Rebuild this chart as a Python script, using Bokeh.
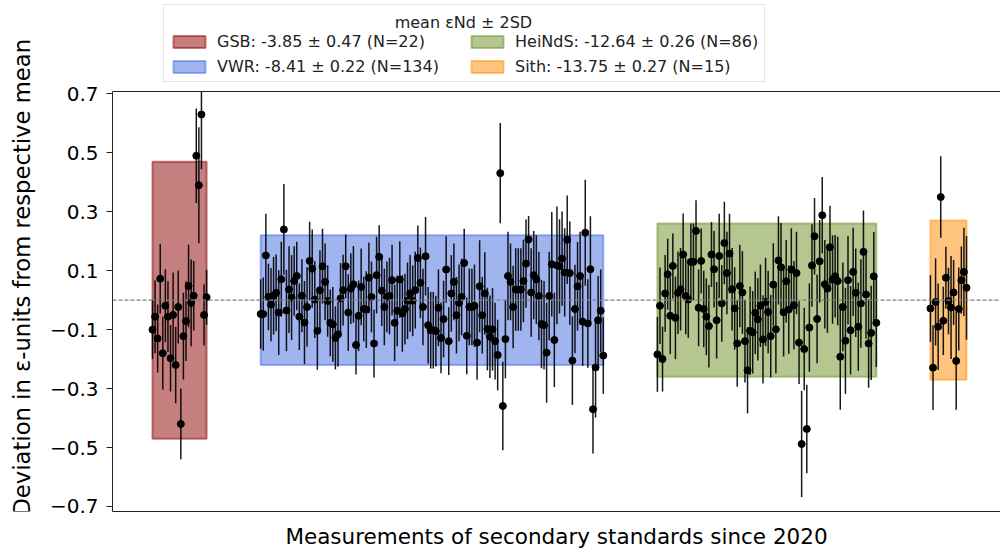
import numpy as np
from bokeh.plotting import figure
from bokeh.layouts import row
from bokeh.models import (Range1d, FixedTicker, Span, Legend, LegendItem,
                          Label, ColumnDataSource, CustomJSTickFormatter)
from bokeh.embed import file_html
from bokeh.resources import INLINE

# ---------------- data ----------------
names = ["GSB", "VWR", "HeiNdS", "Sith"]
means = [-3.85, -8.41, -12.64, -13.75]
two_sd = [0.47, 0.22, 0.26, 0.27]
counts = [22, 134, 86, 15]
starts = [0, 42, 196, 302]          # measurement index of first run of each standard

gsb_dev = [-0.10, -0.056, -0.13, 0.073, -0.18, -0.019, -0.056, -0.197, -0.05, -0.22, -0.023,
           -0.42, -0.122, -0.071, 0.048, -0.009, 0.015, 0.49, 0.39, 0.63, -0.05, 0.01]
gsb_err = [0.10, 0.124, 0.115, 0.118, 0.124, 0.124, 0.12, 0.113, 0.144, 0.13, 0.124,
           0.12, 0.147, 0.135, 0.14, 0.147, 0.118, 0.16, 0.197, 0.186, 0.104, 0.093]

vwr_dev = [-0.047, -0.047, 0.152, 0.011, -0.015, 0.015, 0.025, -0.042, 0.071, 0.24, -0.035,
           0.036, 0.009, 0.065, 0.082, -0.056, 0.015, -0.076, -0.023, 0.133, 0.107, 0.002,
           -0.104, 0.034, 0.115, 0.062, -0.003, -0.077, -0.082, -0.128, -0.116,
           0.006, 0.034, 0.115, -0.042, 0.039, 0.054, -0.152, -0.053, 0.045, -0.030, -0.032,
           0.076, 0.011, -0.147, 0.085, 0.147, 0.032, -0.023, 0.011, 0.014, 0.068, -0.077,
           -0.036, 0.070, -0.045, -0.030, -0.002, 0.023, -0.002, 0.034, 0.143, 0.059, -0.023, 0.149,
           -0.085, -0.102, -0.102, -0.105, -0.026, -0.128, -0.064, 0.104, -0.139, 0.023, 0.062,
           -0.051, -0.009, 0.011, 0.126, -0.121, -0.023, -0.023, -0.019, -0.144, 0.047, -0.051,
           0.023, -0.098, -0.124, -0.099, -0.139, -0.186, 0.431, -0.359, -0.132, 0.082, 0.062,
           -0.023, 0.036,
           0.036, 0.036, 0.065, 0.124, 0.206, 0.026, 0.085, 0.070, 0.014, -0.081, -0.085,
           -0.178, 0.014, 0.122, -0.135, 0.118, 0.115, 0.141, 0.094, 0.205, 0.092, -0.205,
           -0.030, 0.047, 0.082, -0.073, 0.229, -0.079, 0.105, -0.370, -0.228, -0.068, -0.036, -0.188]
vwr_err = [0.118, 0.124, 0.141, 0.113, 0.124, 0.132, 0.13, 0.144, 0.127, 0.154, 0.138,
           0.147, 0.144, 0.118, 0.116, 0.113, 0.124, 0.141, 0.135, 0.133, 0.133, 0.13,
           0.132, 0.135, 0.127, 0.13, 0.121, 0.113, 0.127, 0.107, 0.11,
           0.12, 0.12, 0.108, 0.13, 0.12, 0.13, 0.10, 0.12, 0.13, 0.11, 0.13,
           0.12, 0.12, 0.115, 0.13, 0.107, 0.12, 0.13, 0.12, 0.13, 0.12, 0.13,
           0.12, 0.13, 0.13, 0.12, 0.13, 0.13, 0.12, 0.13, 0.11, 0.12, 0.13, 0.133,
           0.13, 0.13, 0.13, 0.12, 0.13, 0.12, 0.13, 0.113, 0.115, 0.13, 0.13,
           0.13, 0.13, 0.13, 0.116, 0.13, 0.13, 0.13, 0.14, 0.126, 0.156, 0.13,
           0.14, 0.14, 0.14, 0.14, 0.13, 0.12, 0.17, 0.15, 0.133, 0.15, 0.13,
           0.14, 0.14,
           0.14, 0.14, 0.14, 0.15, 0.08, 0.15, 0.15, 0.15, 0.15, 0.15, 0.15,
           0.17, 0.15, 0.177, 0.16, 0.2, 0.16, 0.16, 0.15, 0.15, 0.175, 0.15,
           0.15, 0.15, 0.15, 0.15, 0.18, 0.15, 0.18, 0.15, 0.17, 0.15, 0.14, 0.13]

heinds_dev = [-0.184, -0.019, -0.20, 0.023, 0.088, -0.053, 0.116, -0.06, 0.025, 0.037, 0.155,
              0.014, 0.002, 0.13, 0.13, 0.235, -0.026, 0.133, -0.03, -0.056, -0.088, 0.155,
              0.105, -0.068, 0.15, -0.011, 0.194,
              0.092, 0.158, 0.037, -0.028, -0.147, 0.048, 0.026, -0.139, -0.238, -0.104, -0.109,
              -0.043, -0.065, -0.019, -0.133, -0.006, -0.04, -0.122, 0.053, -0.099, 0.135, 0.112,
              -0.041, 0.064, -0.032, 0.104, -0.017, 0.092, -0.144,
              -0.488, -0.166, -0.437, -0.093, 0.118, 0.217, -0.064, 0.132, 0.288, 0.054, 0.039,
              0.18, 0.07, 0.081, 0.065, -0.192, -0.023, -0.138, 0.068, -0.102, 0.096, 0.025,
              -0.09, -0.011, 0.164, 0.019, -0.147, -0.111, 0.081, -0.077]
heinds_err = [0.127, 0.13, 0.11, 0.13, 0.12, 0.13, 0.11, 0.14, 0.14, 0.14, 0.139,
              0.13, 0.13, 0.13, 0.13, 0.104, 0.13, 0.11, 0.13, 0.13, 0.14, 0.11,
              0.13, 0.13, 0.143, 0.13, 0.14,
              0.14, 0.135, 0.14, 0.14, 0.147, 0.14, 0.14, 0.14, 0.146, 0.15, 0.14,
              0.14, 0.14, 0.14, 0.15, 0.15, 0.14, 0.14, 0.14, 0.15, 0.15, 0.15,
              0.15, 0.14, 0.15, 0.14, 0.15, 0.14, 0.14,
              0.18, 0.14, 0.15, 0.15, 0.14, 0.13, 0.15, 0.14, 0.13, 0.15, 0.15,
              0.14, 0.15, 0.14, 0.15, 0.18, 0.15, 0.18, 0.15, 0.15, 0.15, 0.15,
              0.15, 0.15, 0.14, 0.15, 0.15, 0.16, 0.15, 0.15]

sith_dev = [-0.028, -0.229, -0.006, -0.09, 0.35, -0.07, 0.076, -0.003, -0.025, 0.026,
            -0.206, -0.03, 0.068, 0.096, 0.042]
sith_err = [0.113, 0.144, 0.148, 0.147, 0.138, 0.116, 0.105, 0.113, 0.175, 0.11,
            0.166, 0.141, 0.114, 0.15, 0.176]

devs = [gsb_dev, vwr_dev, heinds_dev, sith_dev]
errs = [gsb_err, vwr_err, heinds_err, sith_err]

ytick_vals = [-0.7, -0.5, -0.3, -0.1, 0.1, 0.3, 0.5, 0.7]
y_lim = (-0.717, 0.708)      # axes limits of the data panel

legend_title = "mean εNd ± 2SD"
x_title = "Measurements of secondary standards since 2020"
y_title = "Deviation in ε-units from respective mean"

# ---------------- styling ----------------
colors = ["darkred", "royalblue", "olivedrab", "darkorange"]
FONT = "DejaVu Sans"
PX_PER_UNIT = 294.7          # vertical scale (pixels per epsilon unit)
TOP_PAD_PX = 91              # space above the axes box that holds the legend
LABEL_W = 40                 # width of the strip holding the y title

# ---------------- sources ----------------
xs, ys, es = [], [], []
for s, d, e in zip(starts, devs, errs):
    xs += list(s + np.arange(len(d)))
    ys += d
    es += e
xs = np.array(xs, dtype=float)
ys = np.array(ys)
es = np.array(es)
# error bars are cut at the top of the axes box, as in the original
pts = ColumnDataSource(dict(x=xs, y=ys, lo=ys - es, hi=np.minimum(ys + es, y_lim[1])))

box_src = ColumnDataSource(dict(
    left=[float(s) for s in starts],
    right=[float(s + n - 1) for s, n in zip(starts, counts)],
    bottom=[-v for v in two_sd],
    top=two_sd,
    color=colors,
))

# ---------------- main figure ----------------
y_end = y_lim[1] + TOP_PAD_PX / PX_PER_UNIT
p = figure(width=1000 - LABEL_W, height=552, output_backend="svg", toolbar_location=None,
           x_range=Range1d(-15.53, 329.2), y_range=Range1d(y_lim[0], y_end),
           min_border_left=112 - LABEL_W, min_border_right=0, min_border_top=0,
           min_border_bottom=41)
p.outline_line_color = None
p.xgrid.grid_line_color = None
p.ygrid.grid_line_color = None
p.background_fill_color = "white"
p.border_fill_color = "white"

boxes = p.quad(left="left", right="right", bottom="bottom", top="top", source=box_src,
               fill_color="color", fill_alpha=0.5, line_color="color", line_alpha=0.5,
               line_width=2)

zero = Span(location=0, dimension="width", line_color="gray", line_width=1.2,
            line_dash="4 2")
p.add_layout(zero)

# top edge of the axes box
top_edge = Span(location=y_lim[1], dimension="width", line_color="#222222", line_width=1)
p.add_layout(top_edge)

p.segment(x0="x", y0="lo", x1="x", y1="hi", source=pts, line_color="black",
          line_width=1.5, line_alpha=0.9)
p.scatter(x="x", y="y", source=pts, size=7, fill_color="black", line_color="black")

# ---------------- axes ----------------
ya = p.yaxis[0]
ya.bounds = y_lim
ya.ticker = FixedTicker(ticks=ytick_vals)
ya.formatter = CustomJSTickFormatter(code="return tick.toFixed(1).replace('-', '\\u2212');")
ya.minor_tick_line_color = None
ya.major_tick_out = 6
ya.major_tick_in = 0
ya.major_tick_line_color = "#222222"
ya.axis_line_color = "#222222"
ya.major_label_text_font = FONT
ya.major_label_text_font_size = "20px"
ya.major_label_text_color = "black"
ya.major_label_standoff = 8

xa = p.xaxis[0]
xa.ticker = FixedTicker(ticks=[])
xa.major_tick_line_color = None
xa.minor_tick_line_color = None
xa.major_tick_out = 0
xa.major_label_standoff = 0
xa.axis_line_color = "#222222"
xa.axis_label = x_title
xa.axis_label_text_font = FONT
xa.axis_label_text_font_size = "21.5px"
xa.axis_label_text_font_style = "normal"
xa.axis_label_text_color = "black"
xa.axis_label_standoff = 12

# ---------------- legend ----------------
items = [LegendItem(label=f"{nm}: {m:.2f} ± {sd:.2f} (N={n})", renderers=[boxes], index=i)
         for i, (nm, m, sd, n) in enumerate(zip(names, means, two_sd, counts))]
legend = Legend(items=items, ncols=2, location=(51, 429),
                title=" ", title_text_font_size="16px", title_standoff=4,
                label_text_font=FONT, label_text_font_size="16px", label_text_color="#222222",
                glyph_width=40, glyph_height=15, label_standoff=8, label_width=244,
                label_height=19, spacing=6, padding=5, margin=0,
                border_line_color="#cccccc", border_line_width=1,
                background_fill_color=None)
p.add_layout(legend)

title_lbl = Label(x=120.7, y=y_lim[1] + 69 / PX_PER_UNIT, text=legend_title,
                  text_align="center", text_baseline="middle", text_font=FONT,
                  text_font_size="16px", text_color="#222222")
p.add_layout(title_lbl)

# ---------------- strip with the y title ----------------
lab = figure(width=LABEL_W, height=552, output_backend="svg", toolbar_location=None,
             x_range=Range1d(0, LABEL_W), y_range=Range1d(0, 552), min_border=0,
             x_axis_location=None, y_axis_location=None)
lab.outline_line_color = None
lab.xgrid.grid_line_color = None
lab.ygrid.grid_line_color = None
lab.border_fill_color = "white"
lab.add_layout(Label(x=21.5, y=552 - 299, text=y_title, angle=90, angle_units="deg",
                     text_align="center", text_baseline="middle", text_font=FONT,
                     text_font_size="22.7px", text_color="black"))

layout = row(lab, p, spacing=0)
open("out.html", "w").write(file_html(layout, INLINE))
